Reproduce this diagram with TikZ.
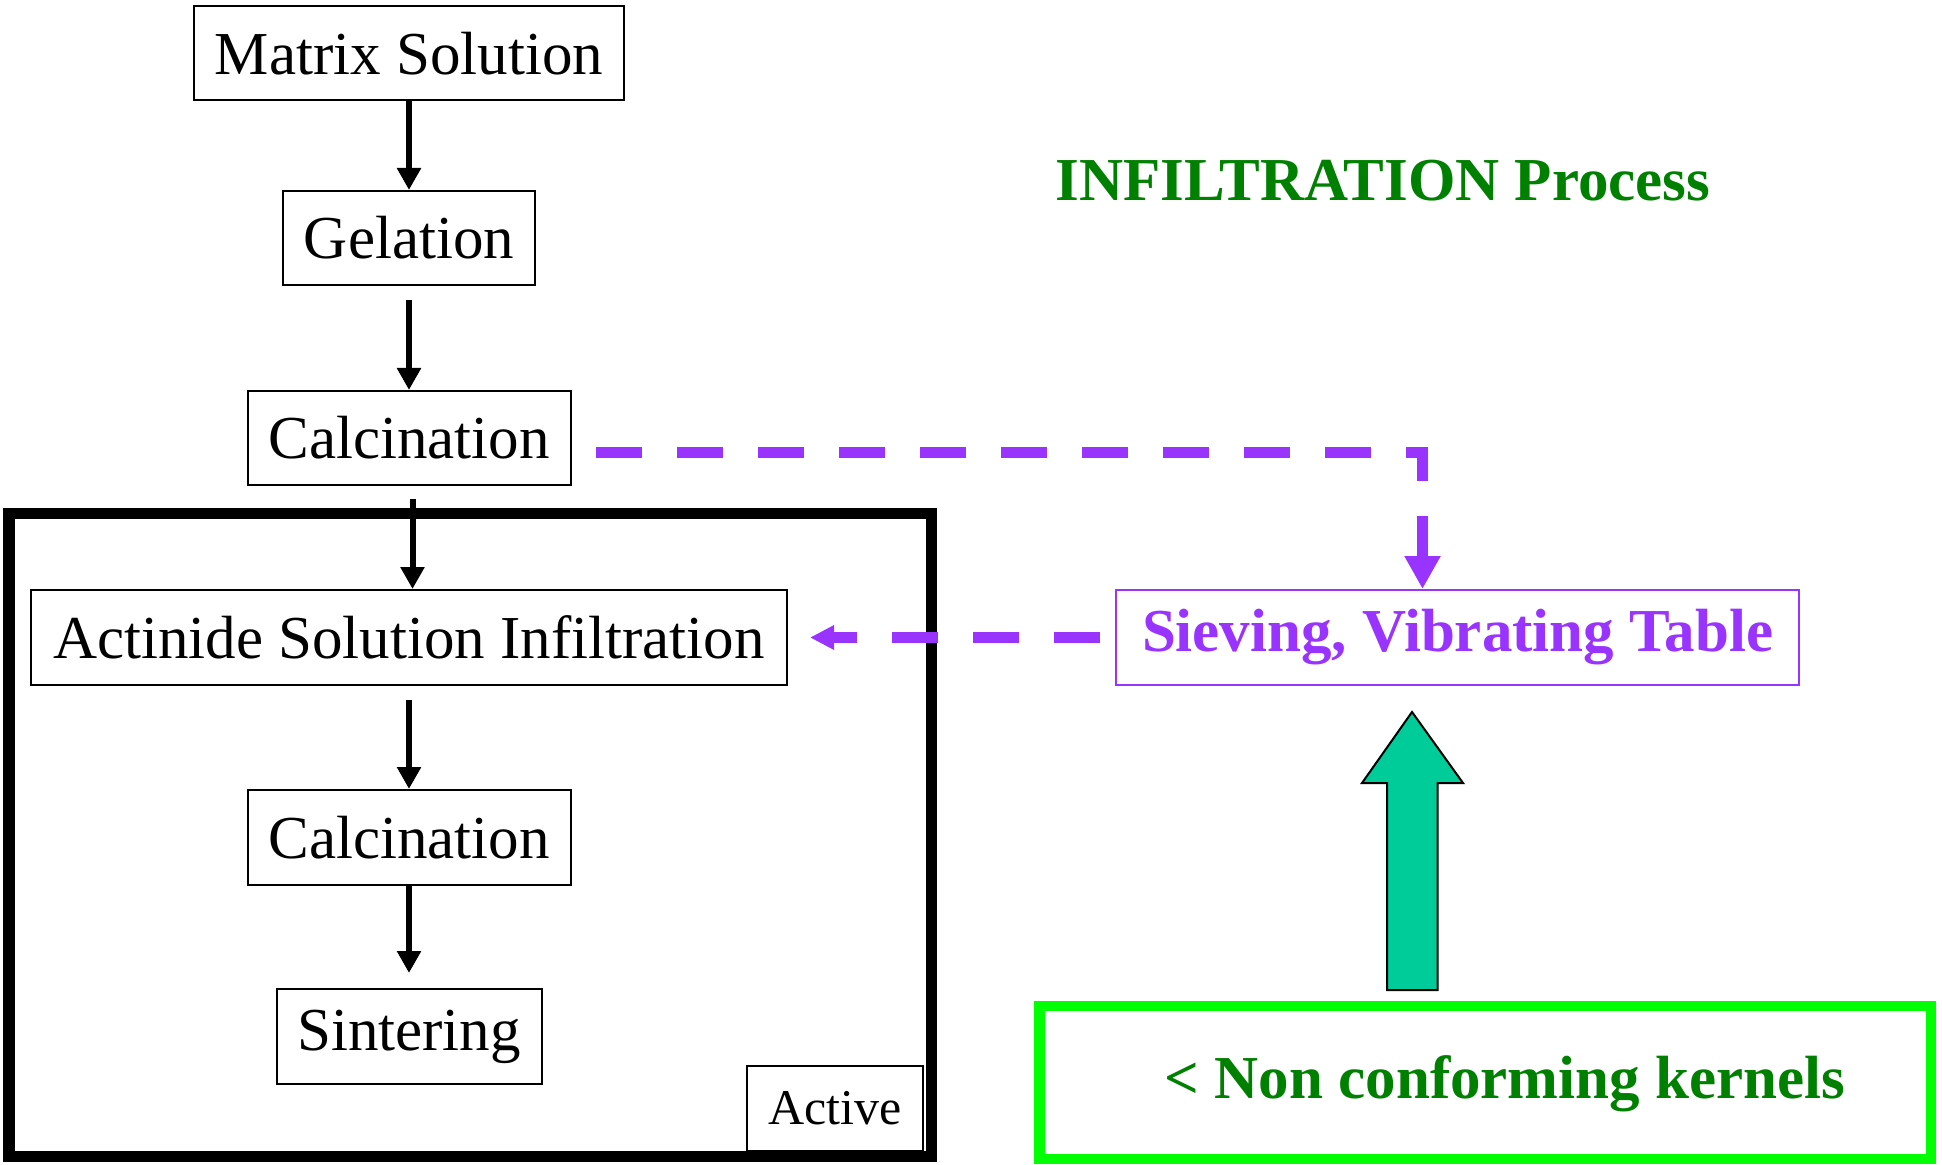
\documentclass[tikz,border=0pt]{standalone}
\usepackage{fontspec}
\setmainfont{Liberation Serif}
\usetikzlibrary{arrows.meta}
\definecolor{pviolet}{HTML}{9933FF}
\definecolor{dgreen}{HTML}{008000}
\definecolor{bgreen}{HTML}{00FF00}
\definecolor{teal2}{HTML}{00CC99}
\tikzset{
  stepbox/.style={draw, line width=1pt, minimum height=47pt, inner sep=0pt, font=\fontsize{30.5}{36}\selectfont},
  blk/.style={line width=3pt, -{Triangle[length=11pt,width=11.5pt]}},
  pdash/.style={pviolet, line width=5.5pt, dash pattern=on 23pt off 17.5pt},
}
\begin{document}
\begin{tikzpicture}[x=0.5pt,y=-0.5pt]
\useasboundingbox (0,0) rectangle (1942,1165);
% active frame
\node[draw, line width=5.75pt, minimum width=461.25pt, minimum height=321.25pt, inner sep=0pt] (frame) at (470,835) {};
% main chain
\node[stepbox, minimum width=215pt] (matrix) at (409,53.5) {Matrix Solution};
\node[stepbox, minimum width=126pt] (gel) at (409,238) {Gelation};
\node[stepbox, minimum width=161.5pt] (calA) at (409,438) {Calcination};
\node[stepbox, minimum width=378pt, minimum height=47.5pt] (act) at (409,637.5) {Actinide Solution Infiltration};
\node[stepbox, minimum width=161.5pt, minimum height=47.5pt] (calB) at (409,837.5) {Calcination};
\node[stepbox, minimum width=132.5pt, minimum height=47.5pt] (sint) at (409,1036.5) {Sintering};
\node[stepbox, minimum width=88pt, minimum height=42.5pt, font=\fontsize{25}{30}\selectfont] (activelbl) at (835,1108.5) {Active};
% right side
\node[anchor=base, text=dgreen, font=\fontsize{30.5}{36}\selectfont\bfseries, inner sep=0pt] (title) at (1383,201) {INFILTRATION Process};
\node[draw=pviolet, text=pviolet, line width=1pt, minimum width=341.5pt, minimum height=47.5pt, inner sep=0pt, font=\fontsize{30.5}{36}\selectfont\bfseries] (sieve) at (1457.5,637.5) {Sieving, Vibrating Table};
\node[draw=bgreen, line width=5.25pt, minimum width=445.75pt, minimum height=76.5pt, inner sep=0pt] (ncbox) at (1485,1082.5) {};
\node[anchor=base, text=dgreen, font=\fontsize{30.5}{36}\selectfont\bfseries, inner sep=0pt] (nctext) at (1505,1098) {< Non conforming kernels};
% black arrows
\draw[blk] (matrix.south) -- (gel.north);
\draw[blk, shorten <=7pt] (gel.south) -- (calA.north);
\draw[blk, shorten <=6.5pt] ([xshift=1.75pt]calA.south) -- ([xshift=1.75pt]act.north);
\draw[blk, shorten <=7pt] (act.south) -- (calB.north);
\draw[blk, shorten >=7.5pt] (calB.south) -- (sint.north);
% purple dashed connectors
\draw[pdash, shorten <=12pt, -{Triangle[length=16.5pt,width=17pt]}] ([yshift=-7.25pt]calA.east) -| ([xshift=-17.5pt]sieve.north);
\draw[pdash, shorten <=7.5pt, shorten >=11pt, -{Triangle[length=12pt,width=11.5pt]}] (sieve.west) -- (act.east);
% block arrow
\draw[fill=teal2, line width=1pt, line join=miter] (1387,990) -- (1387,783) -- (1362,783) -- (1412,712) -- (1463,783) -- (1437.5,783) -- (1437.5,990) -- cycle;
\end{tikzpicture}
\end{document}
